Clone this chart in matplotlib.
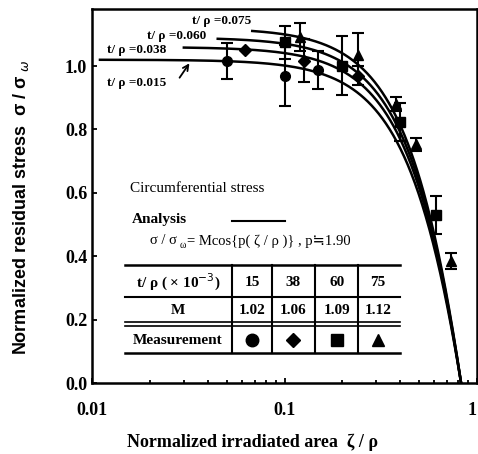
import numpy as np
import matplotlib.pyplot as plt
from matplotlib.lines import Line2D

W, H = 478, 454

def fx(x):
  return x / W

def fy(y):
  return 1 - y / H

# analysis curves  sigma/sigma_w = M cos(p * zeta/rho)
t_rho = [0.015, 0.038, 0.060, 0.075]
t_labels = ["t/ ρ =0.015", "t/ ρ =0.038", "t/ ρ =0.060", "t/ ρ =0.075"]
M_vals = [1.02, 1.06, 1.09, 1.12]
p = 1.90
curve_start = [0.011, 0.030, 0.045, 0.068]

# measurements
circ_x = [0.05, 0.10, 0.15]
circ_y = [1.017, 0.969, 0.988]
circ_err = [0.057, 0.096, 0.061]

diam_x = [0.062, 0.126, 0.24]
diam_y = [1.052, 1.017, 0.969]
diam_err = [0.0, 0.068, 0.03]

sq_x = [0.10, 0.20, 0.40, 0.61]
sq_y = [1.075, 1.001, 0.823, 0.53]
sq_err = [0.052, 0.093, 0.06, 0.06]

tri_x = [0.12, 0.24, 0.38, 0.48, 0.73]
tri_y = [1.091, 1.035, 0.880, 0.753, 0.384]
tri_err = [0.045, 0.069, 0.022, 0.02, 0.025]

plt.rcParams['font.family'] = ['Liberation Serif', 'DejaVu Sans']

fig = plt.figure(figsize=(W / 100, H / 100), dpi=100)
ax = fig.add_axes([fx(92), fy(383), fx(477) - fx(92), fy(9) - fy(383)])

for M, z0 in zip(M_vals, curve_start):
  z = np.geomspace(z0, np.pi / (2 * p), 400)
  ax.plot(z, M * np.cos(p * z), color='black', lw=1.8)

ekw = dict(color='black', ls='none', ms=7, capsize=4.5, elinewidth=1.5, capthick=1.5)
ax.errorbar(circ_x, circ_y, yerr=circ_err, marker='o', **ekw)
ax.errorbar(diam_x, diam_y, yerr=diam_err, marker='D', **dict(ekw, ms=6))
ax.errorbar(sq_x, sq_y, yerr=sq_err, marker='s', **dict(ekw, ms=6.5))
ax.errorbar(tri_x, tri_y, yerr=tri_err, marker='^', **ekw)

ax.set_xscale('log')
ax.set_xlim(0.01, 1)
ax.set_ylim(0, 1.18)
ax.set_yticks([0, 0.2, 0.4, 0.6, 0.8, 1.0])
ax.set_yticklabels(["0.0", "0.2", "0.4", "0.6", "0.8", "1.0"])
ax.set_xticks([0.01, 0.1, 1])
ax.set_xticklabels(["0.01", "0.1", "1"])
ax.tick_params(direction='in', which='both', labelsize=13, width=1.3)
ax.tick_params(axis='x', pad=14)
for lab in ax.get_xticklabels() + ax.get_yticklabels():
  lab.set_fontweight('bold')
ax.get_xticklabels()[-1].set_horizontalalignment('right')
for s in ax.spines.values():
  s.set_linewidth(1.8)

ax.set_xlabel("Normalized irradiated area  ζ / ρ", fontsize=13, fontweight='bold')
ax.xaxis.set_label_coords((253 - 92) / 385, -0.135)
ax.set_ylabel("Normalized residual stress  σ / σ $_{\\omega}$", fontsize=13,
              fontweight='bold', family=['Liberation Sans', 'DejaVu Sans'])
ax.yaxis.set_label_coords(-0.158, 0.47)

# curve labels
label_pos = [(107, 83), (107, 50), (147, 36), (192, 21)]
for txt, (x, y) in zip(t_labels, label_pos):
  fig.text(fx(x), fy(y), txt, fontsize=9.5, fontweight='bold', va='center', ha='left')
ax.annotate("", xy=(fx(191), fy(61)), xytext=(fx(178), fy(80)),
            xycoords='figure fraction', textcoords='figure fraction',
            arrowprops=dict(arrowstyle='->', color='black', lw=1.3))

# legend block
fig.text(fx(130), fy(188), "Circumferential stress", fontsize=11, va='center', ha='left')
fig.text(fx(132), fy(220), "Analysis", fontsize=11, fontweight='bold', va='center', ha='left')
fig.add_artist(Line2D([fx(232), fx(285)], [fy(221), fy(221)], color='black', lw=1.5))
fig.text(fx(150), fy(241), "σ / σ", fontsize=10.5, va='center', ha='left')
fig.text(fx(180), fy(245), "ω", fontsize=7, va='center', ha='left')
fig.text(fx(187), fy(241), "= Mcos{p( ζ / ρ )} , p≒1.90", fontsize=10.5,
         va='center', ha='left', family=['Liberation Serif', 'DejaVu Sans'])

# table
tx0, tx1 = 125, 400
for y, lw in [(265, 1.8), (297, 1.5), (322, 1.2), (326, 1.2), (353, 1.8)]:
  fig.add_artist(Line2D([fx(tx0), fx(tx1)], [fy(y), fy(y)], color='black', lw=lw))
for x in [232, 272, 315, 358]:
  fig.add_artist(Line2D([fx(x), fx(x)], [fy(265), fy(353)], color='black', lw=1.5))
col_x = [252, 293, 337, 378]
fig.text(fx(178), fy(282), "t/ ρ ( × 10$^{-3}$)", fontsize=11, fontweight='bold', ha='center', va='center')
fig.text(fx(178), fy(311), "M", fontsize=11, fontweight='bold', ha='center', va='center')
fig.text(fx(178), fy(340), "Measurement", fontsize=11, fontweight='bold', ha='center', va='center')
for cx, tr, mv in zip(col_x, t_rho, M_vals):
  fig.text(fx(cx), fy(282), f"{round(tr * 1000)}", fontsize=11, fontweight='bold', ha='center', va='center')
  fig.text(fx(cx), fy(311), f"{mv:.2f}", fontsize=11, fontweight='bold', ha='center', va='center')
for cx, mk, ms in zip(col_x, ['o', 'D', 's', '^'], [9, 7, 8, 9]):
  fig.add_artist(Line2D([fx(cx)], [fy(340)], marker=mk, ms=ms, color='black', ls='none'))

fig.savefig("out.png", dpi=100)
